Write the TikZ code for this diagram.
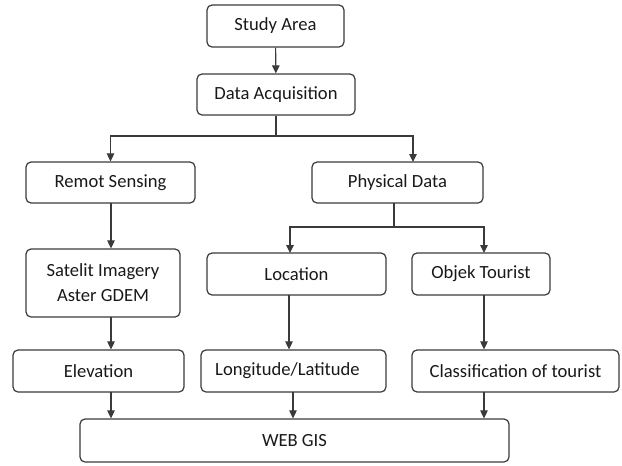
\documentclass[tikz,border=0pt]{standalone}
\usepackage{fontspec}
\setmainfont{Carlito}
\usetikzlibrary{arrows.meta,calc}
\definecolor{linec}{HTML}{3A3A3A}
\begin{document}
\begin{tikzpicture}[x=1pt,y=-1pt,
  box/.style={draw=linec,line width=1.2pt,rounded corners=5pt,align=center,inner sep=0pt,
    font=\fontsize{18.6}{25}\selectfont,text=black!90},
  conn/.style={draw=linec,line width=1.1pt},
  arr/.style={conn,-{Triangle[length=8pt,width=7.5pt]}}]
\useasboundingbox (0,0) rectangle (622,466);
\node[box,minimum width=137,minimum height=42] (study) at (275.5,26) {Study Area};
\node[box,minimum width=158,minimum height=41] (acq) at (276,94.5) {Data Acquisition};
\node[box,minimum width=169,minimum height=41] (remot) at (110.5,182.5) {Remot Sensing};
\node[box,minimum width=171,minimum height=41] (phys) at (397.5,182.5) {Physical Data};
\node[box,minimum width=154,minimum height=68] (sat) at (103,283) {Satelit Imagery\\Aster GDEM};
\node[box,minimum width=179,minimum height=42] (loc) at (296.5,274) {Location};
\node[box,minimum width=138,minimum height=42] (obj) at (481,274) {Objek Tourist};
\node[box,minimum width=171,minimum height=42] (elev) at (98.5,371) {Elevation};
\node[box,minimum width=185,minimum height=42] (lon) at (293.5,371) {\hspace*{-12pt}Longitude/Latitude};
\node[box,minimum width=207,minimum height=42] (cls) at (515.5,371) {Classification of tourist};
\node[box,minimum width=429,minimum height=43] (web) at (294.5,440.5) {WEB GIS};
% top
\draw[arr] (study) -- (acq);
\coordinate (j1) at (276,136);
\coordinate (p1) at (413,162);
\draw[conn] (acq.south) -- (j1);
\draw[arr] (j1) -| (remot.north);
\draw[arr] (j1) -| (p1);
% physical branch
\coordinate (p2) at (394,203);
\coordinate (j2) at (394,227);
\coordinate (l1) at (290,253);
\coordinate (o1) at (484,253);
\draw[conn] (p2) -- (j2);
\draw[arr] (j2) -| (l1);
\draw[arr] (j2) -| (o1);
% verticals
\coordinate (r1) at (111,203);
\draw[arr] (r1) -- (r1 |- sat.north);
\coordinate (s1) at (111,317);
\draw[arr] (s1) -- (s1 |- elev.north);
\coordinate (l2) at (289,295);
\draw[arr] (l2) -- (l2 |- lon.north);
\coordinate (o2) at (484,295);
\draw[arr] (o2) -- (o2 |- cls.north);
% to web
\coordinate (e1) at (111,392);
\draw[arr] (e1) -- (e1 |- web.north);
\coordinate (e2) at (293,392);
\draw[arr] (e2) -- (e2 |- web.north);
\coordinate (e3) at (484,392);
\draw[arr] (e3) -- (e3 |- web.north);
\end{tikzpicture}
\end{document}
